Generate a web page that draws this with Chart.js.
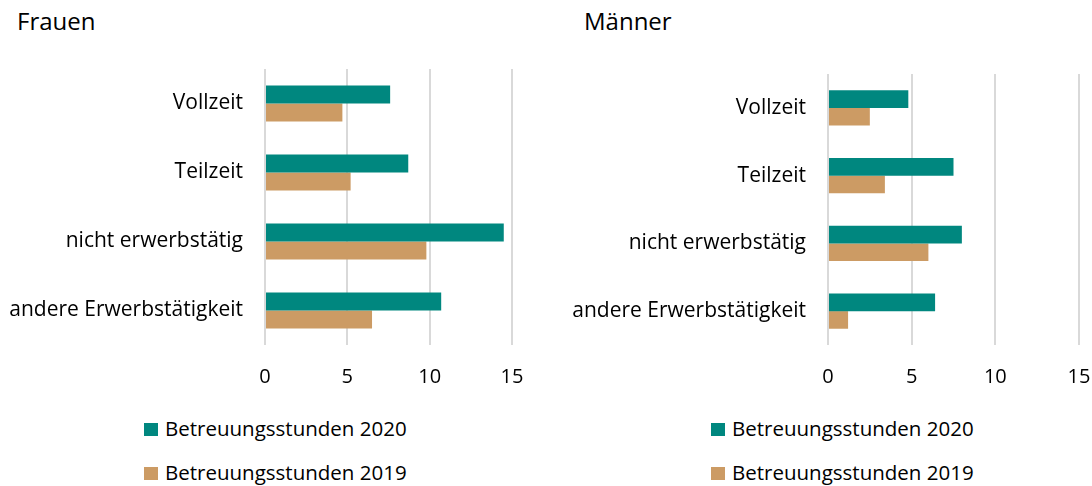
<!DOCTYPE html>
<html>
<head>
<meta charset="utf-8">
<script src="https://cdn.jsdelivr.net/npm/chart.js@4"></script>
<style>
  body { margin: 0; background: #fff; font-family: "Open Sans", sans-serif; color: #000; }
  #wrap { position: relative; width: 1092px; height: 486px; overflow: hidden; }
  canvas { position: absolute; top: 0; }
  .title { position: absolute; font-size: 24px; line-height: 24px; top: 9px; }
  .legend { position: absolute; font-size: 20.5px; line-height: 20px; }
  .legend div { height: 44px; white-space: nowrap; }
  .legend span.box { display: inline-block; width: 14px; height: 13px; margin-right: 7px; vertical-align: baseline; }
</style>
</head>
<body>
<div id="wrap">
  <div class="title" style="left:17px">Frauen</div>
  <div class="title" style="left:584px">Männer</div>
  <canvas id="frauen" width="546" height="400" style="left:0"></canvas>
  <canvas id="maenner" width="600" height="400" style="left:546px"></canvas>
  <div class="legend" id="legFrauen" style="left:144px; top:418px"></div>
  <div class="legend" id="legMaenner" style="left:711px; top:418px"></div>
</div>
<script>
// data
const categories = ['Vollzeit', 'Teilzeit', 'nicht erwerbstätig', 'andere Erwerbstätigkeit'];
const seriesNames = ['Betreuungsstunden 2020', 'Betreuungsstunden 2019'];
const frauen2020 = [7.6, 8.7, 14.5, 10.7];
const frauen2019 = [4.7, 5.2, 9.8, 6.5];
const maenner2020 = [4.8, 7.5, 8.0, 6.4];
const maenner2019 = [2.5, 3.4, 6.0, 1.2];
const xTicks = [0, 5, 10, 15];

const colors = ['#00877f', '#cc9b64'];
const fontFamily = '"Open Sans", sans-serif';

function makeChart(id, d2020, d2019, yWidth, padTop, padRight) {
  const ctx = document.getElementById(id).getContext('2d');
  return new Chart(ctx, {
    type: 'bar',
    data: {
      labels: categories,
      datasets: [
        { label: seriesNames[0], data: d2020, backgroundColor: colors[0] },
        { label: seriesNames[1], data: d2019, backgroundColor: colors[1] }
      ]
    },
    options: {
      indexAxis: 'y',
      responsive: false,
      animation: false,
      devicePixelRatio: 1,
      categoryPercentage: 0.52,
      barPercentage: 1,
      layout: { padding: { top: padTop, right: padRight, left: 0, bottom: 0 } },
      plugins: { legend: { display: false }, tooltip: { enabled: false } },
      scales: {
        x: {
          min: xTicks[0],
          max: xTicks[xTicks.length - 1],
          afterBuildTicks: (scale) => { scale.ticks = xTicks.map(v => ({ value: v })); },
          afterFit: (scale) => { scale.height = 55; },
          grid: { color: '#d9d9d9', lineWidth: 2, drawTicks: false },
          border: { display: false },
          ticks: { color: '#000', padding: 20, font: { family: fontFamily, size: 20 } }
        },
        y: {
          afterFit: (scale) => { scale.width = yWidth; },
          grid: { display: false, drawTicks: false },
          border: { display: false },
          ticks: { color: '#000', padding: 22, font: { family: fontFamily, size: 21 } }
        }
      }
    }
  });
}

function makeLegend(id) {
  const el = document.getElementById(id);
  seriesNames.forEach((name, i) => {
    const row = document.createElement('div');
    const box = document.createElement('span');
    box.className = 'box';
    box.style.background = colors[i];
    row.appendChild(box);
    row.appendChild(document.createTextNode(name));
    el.appendChild(row);
  });
}

makeChart('frauen', frauen2020, frauen2019, 265, 69, 34);
makeChart('maenner', maenner2020, maenner2019, 282, 74, 67);
makeLegend('legFrauen');
makeLegend('legMaenner');
</script>
</body>
</html>
